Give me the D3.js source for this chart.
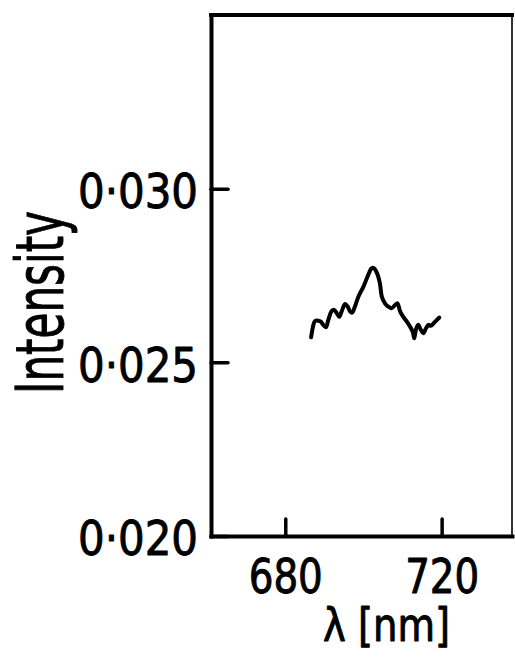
<!DOCTYPE html>
<html>
<head>
<meta charset="utf-8">
<script src="https://cdn.jsdelivr.net/npm/d3@7"></script>
<style>
  html, body { margin: 0; padding: 0; background: #fff; }
  svg { display: block; }
  text { font-family: "DejaVu Sans Condensed", "DejaVu Sans", sans-serif; fill: #000; }
</style>
</head>
<body>
<svg id="chart" width="515" height="657"></svg>
<script>
// Emission spectrum: wavelength (nm) vs intensity
const wavelength = [686.6, 687.2, 687.6, 688.4, 689.1, 689.7, 690.4, 691.0, 691.9, 692.5,
  693.2, 693.8, 694.4, 695.3, 696.0, 696.6, 697.1, 697.8, 698.7, 700.0,
  701.2, 702.1, 702.7, 703.5, 704.2, 704.7, 705.5, 706.4, 707.2, 708.1,
  708.7, 709.4, 710.2, 711.1, 711.9, 712.6, 713.0, 713.4, 714.0, 714.7,
  715.3, 716.0, 716.6, 717.2, 717.9, 718.6, 719.4];
const intensity = [0.02572, 0.02608, 0.02619, 0.02620, 0.02617, 0.02608, 0.02601, 0.02622, 0.02648, 0.02651,
  0.02641, 0.02631, 0.02646, 0.02668, 0.02660, 0.02646, 0.02643, 0.02660, 0.02689, 0.02718,
  0.02751, 0.02771, 0.02771, 0.02756, 0.02728, 0.02689, 0.02670, 0.02660, 0.02656, 0.02665,
  0.02670, 0.02646, 0.02631, 0.02617, 0.02603, 0.02588, 0.02569, 0.02593, 0.02608, 0.02593,
  0.02584, 0.02598, 0.02608, 0.02605, 0.02612, 0.02620, 0.02629];

const xTicks = [680, 720];
const xTickLabels = ["680", "720"];
const yTicks = [0.020, 0.025, 0.030];
const yTickLabels = ["0·020", "0·025", "0·030"];
const xTitle = "λ [nm]";
const yTitle = "Intensity";

const svg = d3.select("#chart");
const plotLeft = 211, plotRight = 512, plotTop = 15, plotBottom = 536;

const x = d3.scaleLinear().domain([661, 738]).range([plotLeft, plotRight]);
const y = d3.scaleLinear().domain([0.020, 0.035]).range([plotBottom, plotTop]);

// frame: heavy left/bottom/top, light right edge
svg.append("line").attr("x1", plotLeft).attr("x2", plotRight).attr("y1", plotTop).attr("y2", plotTop)
  .attr("stroke", "#000").attr("stroke-width", 4).attr("stroke-linecap", "square");
svg.append("line").attr("x1", plotRight).attr("x2", plotRight).attr("y1", plotTop).attr("y2", plotBottom)
  .attr("stroke", "#000").attr("stroke-width", 1.6);

const yAxis = d3.axisLeft(y).tickValues(yTicks)
  .tickFormat((d, i) => yTickLabels[i]).tickSizeInner(-17).tickSizeOuter(0).tickPadding(13);
const gy = svg.append("g").attr("transform", `translate(${plotLeft},0)`).call(yAxis);

const xAxis = d3.axisBottom(x).tickValues(xTicks)
  .tickFormat((d, i) => xTickLabels[i]).tickSizeInner(-17).tickSizeOuter(0).tickPadding(23);
const gx = svg.append("g").attr("transform", `translate(0,${plotBottom})`).call(xAxis);

// lettering is drawn slightly heavier with a thin outline
const inked = sel => sel.attr("fill", "#000").attr("stroke", "#000")
  .attr("stroke-width", 0.9).attr("stroke-linejoin", "round");

[gx, gy].forEach(g => {
  g.select(".domain").attr("stroke", "#000").attr("stroke-width", 4).attr("stroke-linecap", "square");
  g.selectAll(".tick line").attr("stroke", "#000").attr("stroke-width", 3.5).attr("stroke-linecap", "round");
  g.selectAll(".tick text").attr("font-size", 48)
    .attr("font-family", "DejaVu Sans Condensed, DejaVu Sans, sans-serif").call(inked);
});
gy.selectAll(".tick text").attr("dy", "0.39em")
  .attr("textLength", 120).attr("lengthAdjust", "spacingAndGlyphs");
gx.selectAll(".tick text")
  .attr("textLength", 74).attr("lengthAdjust", "spacingAndGlyphs");

// axis titles
svg.append("text")
  .attr("transform", `translate(63,${(plotTop + plotBottom) / 2 + 27}) rotate(-90)`)
  .attr("text-anchor", "middle").attr("font-size", 66)
  .attr("textLength", 183).attr("lengthAdjust", "spacingAndGlyphs")
  .call(inked)
  .text(yTitle);

svg.append("text")
  .attr("x", (plotLeft + plotRight) / 2 + 25).attr("y", 641)
  .attr("text-anchor", "middle").attr("font-size", 46)
  .attr("textLength", 127).attr("lengthAdjust", "spacingAndGlyphs")
  .call(inked)
  .text(xTitle);

// spectrum trace
const data = wavelength.map((w, i) => [w, intensity[i]]);
const line = d3.line().x(d => x(d[0])).y(d => y(d[1])).curve(d3.curveCatmullRom.alpha(0.5));
svg.append("path").datum(data).attr("d", line)
  .attr("fill", "none").attr("stroke", "#000").attr("stroke-width", 4)
  .attr("stroke-linejoin", "round").attr("stroke-linecap", "round");
</script>
</body>
</html>
